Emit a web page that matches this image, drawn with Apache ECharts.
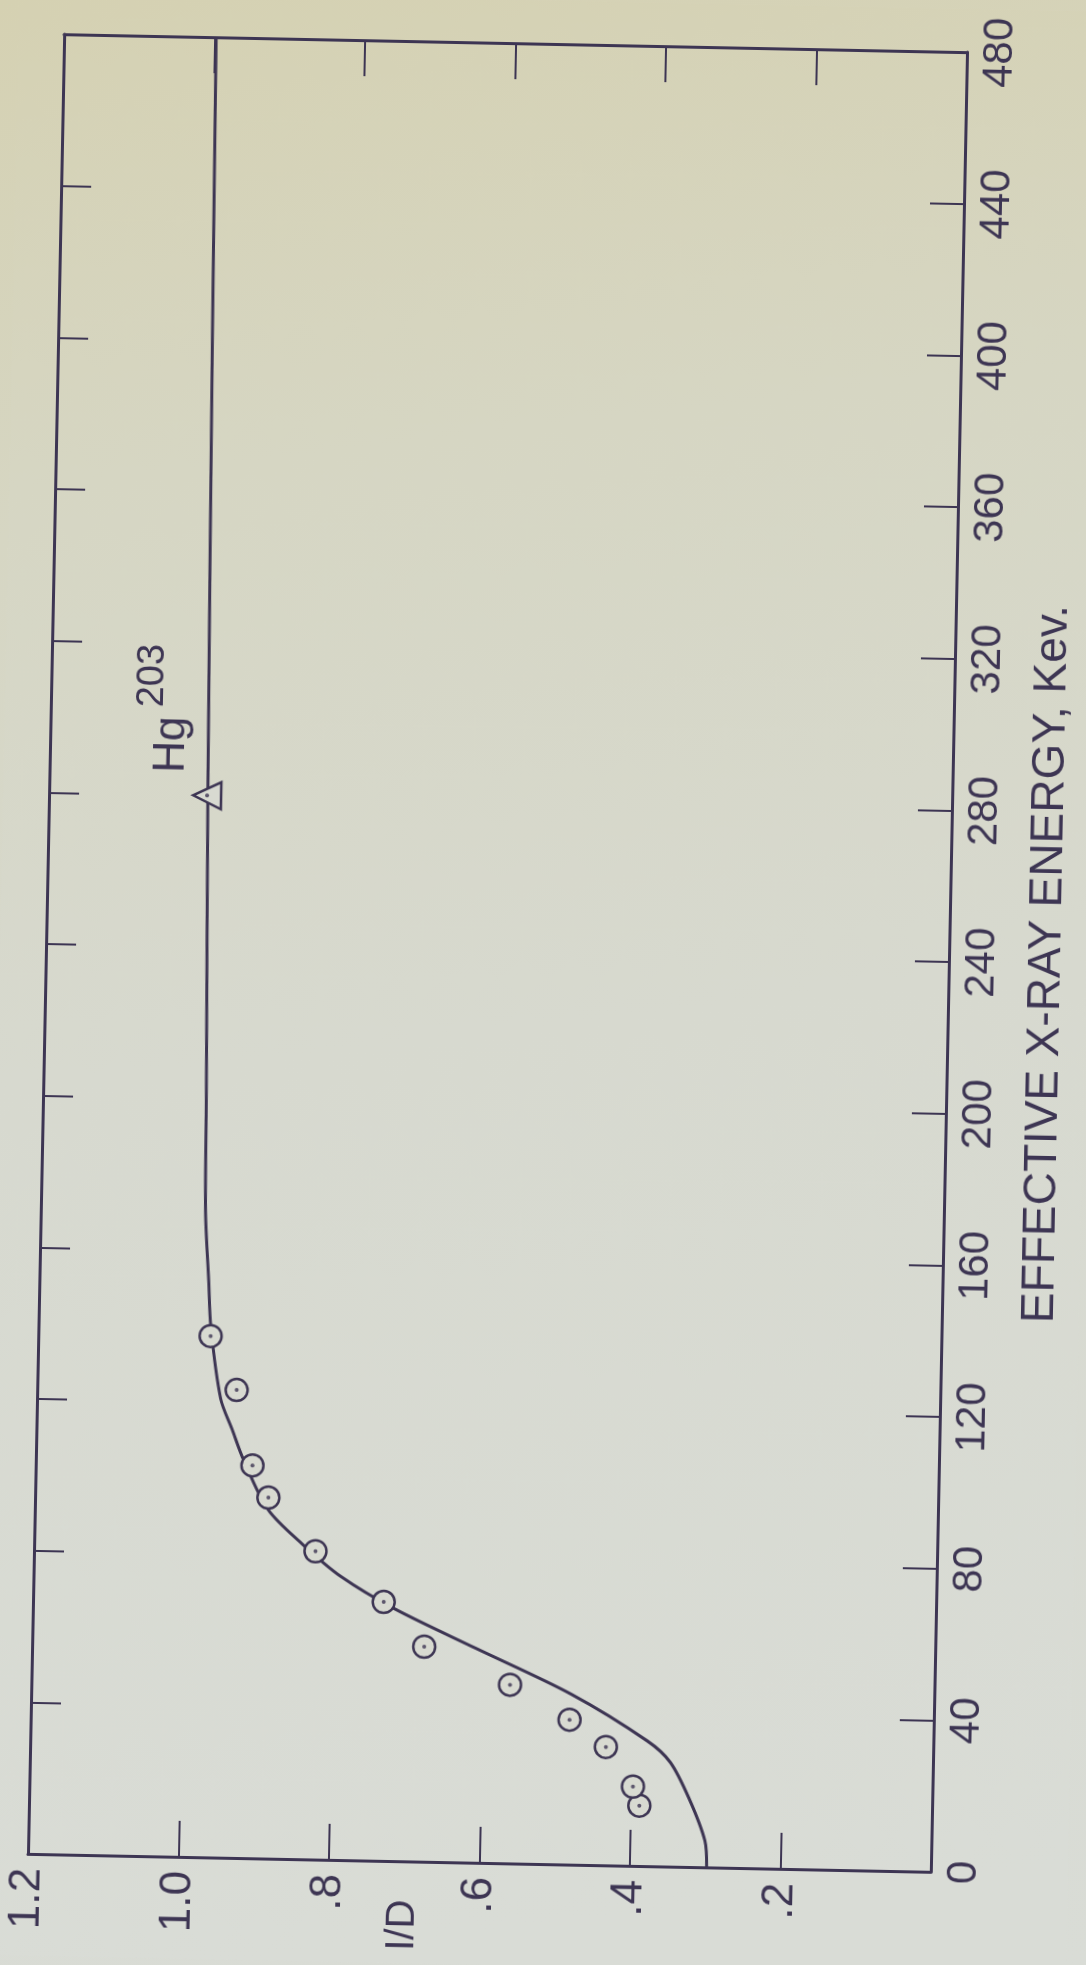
<!DOCTYPE html>
<html>
<head>
<meta charset="utf-8">
<script src="https://cdn.jsdelivr.net/npm/echarts@6/dist/echarts.min.js"></script>
<style>
html,body{margin:0;padding:0;overflow:hidden;}
body{width:1086px;height:1965px;background:linear-gradient(170deg,#d5d1b2 0%,#d6d6c3 25%,#d7d9cf 55%,#d9dcd6 100%);}
/* the scanned page is tilted by about 1.1 degrees clockwise */
#c{width:1086px;height:1965px;transform-origin:497.5px 953px;transform:rotate(1.14deg);}
</style>
</head>
<body>
<div id="c"></div>
<script>
// ---- data (original chart: x = effective X-ray energy, y = I/D; drawn rotated 90° CCW) ----
const energyTickLabels = ['0','40','80','120','160','200','240','280','320','360','400','440','480'];
const ratioTickLabels = ['', '.2', '.4', '.6', '.8', '1.0', '1.2'];

// measured points (circles)
const pointEnergy = [15.9, 20.9, 31.2, 38.2, 47.1, 56.7, 68.3, 81.3, 95.2, 103.6, 123.4, 137.5];
const pointRatio  = [0.389, 0.398, 0.435, 0.484, 0.564, 0.679, 0.734, 0.826, 0.890, 0.912, 0.935, 0.971];

// Hg203 point (triangle)
const hgEnergy = [280];
const hgRatio = [0.99];

// fitted curve
const curveEnergy = [0, 7, 18, 27.5, 33, 45, 56.6, 66.5, 74.7, 83, 92, 105, 113, 121, 140, 152, 170, 200, 280, 400, 480];
const curveRatio  = [0.298, 0.301, 0.323, 0.349, 0.380, 0.483, 0.611, 0.719, 0.791, 0.843, 0.890, 0.924, 0.940, 0.956, 0.971, 0.975, 0.981, 0.983, 0.989, 0.995, 0.998];

const energyAxisName = 'EFFECTIVE X-RAY ENERGY, Kev.';
const ratioAxisName = 'I/D';
const hgLabel = 'Hg';
const hgSup = '203';

// ---- build ----
const ink = '#3d3553';
const fam = 'Liberation Sans';
const fillBg = '#d8dad1';

const pts = pointEnergy.map((e, i) => [pointRatio[i], e]);
const hg = hgEnergy.map((e, i) => [hgRatio[i], e]);
const curve = curveEnergy.map((e, i) => [curveRatio[i], e]);

const chart = echarts.init(document.getElementById('c'), null, {renderer: 'canvas'});

const option = {
  animation: false,
  backgroundColor: {
    type: 'linear', x: 0, y: 0, x2: 0.25, y2: 1,
    colorStops: [
      {offset: 0, color: '#d5d1b2'},
      {offset: 0.25, color: '#d6d6c3'},
      {offset: 0.55, color: '#d7d9cf'},
      {offset: 1, color: '#d9dcd6'}
    ]
  },
  grid: {left: 46, right: 137, top: 43, bottom: 102},
  xAxis: [
    {
      type: 'value', min: 0, max: 1.2, interval: 0.2, inverse: true, position: 'bottom',
      splitLine: {show: false},
      axisLine: {show: true, onZero: false, lineStyle: {color: ink, width: 3}},
      axisTick: {show: true, inside: true, length: 36, lineStyle: {color: ink, width: 2}},
      axisLabel: {
        rotate: 90, margin: 14, color: ink, fontSize: 44, fontFamily: fam,
        formatter: v => ratioTickLabels[Math.round(v / 0.2)]
      }
    },
    {
      type: 'value', min: 0, max: 1.2, interval: 0.2, inverse: true, position: 'top',
      splitLine: {show: false},
      axisLine: {show: true, onZero: false, lineStyle: {color: ink, width: 3}},
      axisTick: {show: true, inside: true, length: 36, lineStyle: {color: ink, width: 2}},
      axisLabel: {show: false}
    }
  ],
  yAxis: [
    {
      type: 'value', min: 0, max: 480, interval: 40, position: 'right',
      splitLine: {show: false},
      axisLine: {show: true, onZero: false, lineStyle: {color: ink, width: 3}},
      axisTick: {show: true, inside: true, length: 34, lineStyle: {color: ink, width: 2}},
      axisLabel: {
        rotate: 90, margin: 12, color: ink, fontSize: 42, fontFamily: fam,
        formatter: v => energyTickLabels[Math.round(v / 40)]
      },
      name: energyAxisName, nameLocation: 'middle', nameRotate: 90, nameGap: 75,
      nameTextStyle: {color: ink, fontSize: 46, fontFamily: fam}
    },
    {
      type: 'value', min: 0, max: 480, interval: 40, position: 'left',
      splitLine: {show: false},
      axisLine: {show: true, onZero: false, lineStyle: {color: ink, width: 3}},
      axisTick: {show: true, inside: true, length: 30, lineStyle: {color: ink, width: 2}},
      axisLabel: {show: false}
    }
  ],
  series: [
    {
      type: 'line', xAxisIndex: 0, yAxisIndex: 0, data: curve, showSymbol: false, symbol: 'none',
      smooth: 0.3, lineStyle: {color: ink, width: 3}, z: 2
    },
    {
      type: 'scatter', xAxisIndex: 0, yAxisIndex: 0, data: pts, symbol: 'circle', symbolSize: 22,
      itemStyle: {color: fillBg, borderColor: ink, borderWidth: 2.5, opacity: 1}, z: 3
    },
    {
      type: 'scatter', xAxisIndex: 0, yAxisIndex: 0, data: pts, symbol: 'circle', symbolSize: 4,
      itemStyle: {color: ink}, z: 4
    },
    {
      type: 'scatter', xAxisIndex: 0, yAxisIndex: 0, data: hg, symbol: 'triangle', symbolSize: [27, 28], symbolRotate: 90,
      itemStyle: {color: fillBg, borderColor: ink, borderWidth: 2.5, opacity: 1}, z: 3
    },
    {
      type: 'scatter', xAxisIndex: 0, yAxisIndex: 0, data: hg, symbol: 'circle', symbolSize: 4,
      itemStyle: {color: ink}, z: 4
    }
  ]
};
chart.setOption(option);

const tri = chart.convertToPixel({xAxisIndex: 0, yAxisIndex: 0}, hg[0]);
const idPos = chart.convertToPixel({xAxisIndex: 0, yAxisIndex: 0}, [0.70, 0]);

function rotText(x, y, text, size, align) {
  return {
    type: 'text', x: x, y: y, rotation: Math.PI / 2, z: 10,
    style: {
      text: text, fill: ink, fontSize: size, fontFamily: fam,
      align: align, textAlign: align, verticalAlign: 'middle', textVerticalAlign: 'middle'
    }
  };
}

chart.setOption({
  graphic: [
    rotText(tri[0] - 36, tri[1] - 22, hgLabel, 44, 'left'),
    rotText(tri[0] - 57, tri[1] - 87, hgSup, 38, 'left'),
    rotText(idPos[0], idPos[1] + 64, ratioAxisName, 40, 'center')
  ]
});
</script>
</body>
</html>
